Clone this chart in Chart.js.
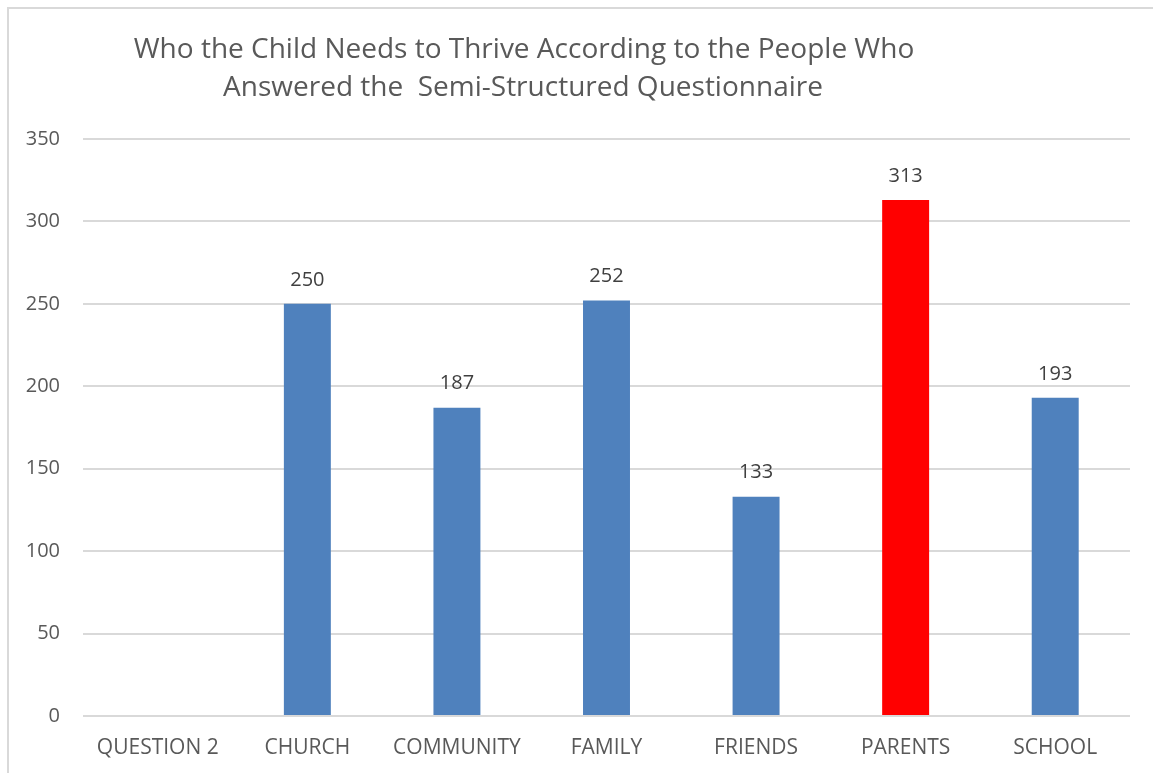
<!DOCTYPE html>
<html lang="en">
<head>
  <meta charset="UTF-8">
  <title>Who the Child Needs to Thrive</title>
  <script src="https://cdn.jsdelivr.net/npm/chart.js"></script>
  <style>
    body {
      margin: 0;
      background: white;
      overflow: hidden;
    }

    .marco {
      position: absolute;
      left: 7px;
      top: 7px;
      width: 1170px;
      height: 790px;
      border: 2px solid #d9d9d9;
    }

    .lienzo {
      position: absolute;
      left: 0;
      top: 0;
      width: 1153px;
      height: 773px;
    }
  </style>
</head>
<body>
  <div class="marco"></div>
  <div class="lienzo">
    <canvas id="grafico" width="1153" height="773"></canvas>
  </div>

  <script>
    const categorias = ['QUESTION 2', 'CHURCH', 'COMMUNITY', 'FAMILY', 'FRIENDS', 'PARENTS', 'SCHOOL'];
    const valores = [null, 250, 187, 252, 133, 313, 193];
    const colores = ['#4F81BD', '#4F81BD', '#4F81BD', '#4F81BD', '#4F81BD', '#FF0000', '#4F81BD'];
    const titulo = [
      'Who the Child Needs to Thrive According to the People Who',
      'Answered the  Semi-Structured Questionnaire'
    ];

    const fuente = '"Open Sans", "DejaVu Sans", sans-serif';

    // titulo y etiquetas de valor dibujados a mano
    const extras = {
      id: 'extras',
      afterDatasetsDraw(chart) {
        const ctx = chart.ctx;
        ctx.save();
        ctx.fillStyle = '#404040';
        ctx.font = '20px ' + fuente;
        ctx.textAlign = 'center';
        ctx.textBaseline = 'bottom';
        const meta = chart.getDatasetMeta(0);
        meta.data.forEach((barra, i) => {
          if (valores[i] === null) return;
          ctx.fillText(String(valores[i]), barra.x, barra.y - 14);
        });

        ctx.fillStyle = '#595959';
        ctx.font = '28px ' + fuente;
        ctx.textBaseline = 'middle';
        ctx.fillText(titulo[0], 524, 50);
        ctx.fillText(titulo[1], 523, 88);
        ctx.restore();
      }
    };

    const ctx = document.getElementById('grafico').getContext('2d');
    new Chart(ctx, {
      type: 'bar',
      data: {
        labels: categorias,
        datasets: [{
          data: valores,
          backgroundColor: colores,
          barPercentage: 0.314,
          categoryPercentage: 1
        }]
      },
      options: {
        responsive: false,
        animation: false,
        layout: { padding: { top: 139, right: 23, left: 0, bottom: 0 } },
        plugins: {
          legend: { display: false },
          tooltip: { enabled: false }
        },
        scales: {
          x: {
            grid: { display: false },
            border: { display: false },
            ticks: { color: '#595959', font: { family: fuente, size: 21 }, padding: 11 },
            afterFit(scale) { scale.height = 57; }
          },
          y: {
            min: 0,
            max: 350,
            ticks: { stepSize: 50, color: '#595959', font: { family: fuente, size: 20 }, padding: 23 },
            grid: { color: '#d9d9d9', lineWidth: 2, drawTicks: false },
            border: { display: false },
            afterFit(scale) { scale.width = 83; }
          }
        }
      },
      plugins: [extras]
    });
  </script>
</body>
</html>
